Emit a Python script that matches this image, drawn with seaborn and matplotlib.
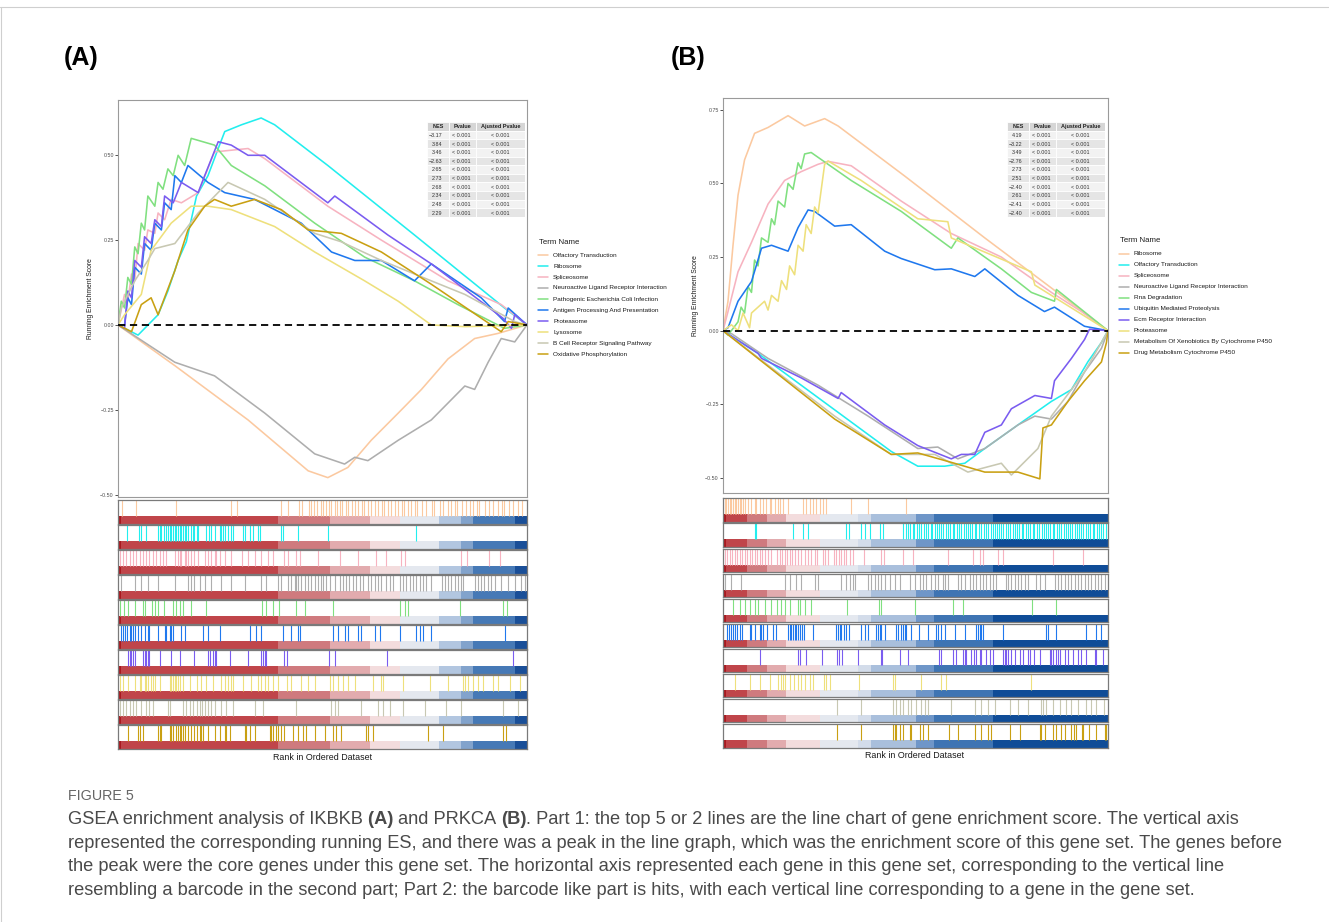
import numpy as np
import pandas as pd
import matplotlib
matplotlib.use("Agg")
import matplotlib.pyplot as plt
import seaborn as sns
from matplotlib.patches import Rectangle
from matplotlib.lines import Line2D

W, H = 1329, 922

# ---------------------------------------------------------------- data
SET_COLORS = ["#FBC9A0", "#22EEEE", "#F7B3C0", "#AEAEAE", "#80E080",
              "#1F78EE", "#7A5CF0", "#EEE07C", "#C8C8B2", "#C9A012"]

TERMS_A = ["Olfactory Transduction", "Ribosome", "Spliceosome",
           "Neuroactive Ligand Receptor Interaction",
           "Pathogenic Escherichia Coli Infection",
           "Antigen Processing And Presentation", "Proteasome", "Lysosome",
           "B Cell Receptor Signaling Pathway", "Oxidative Phosphorylation"]
NES_A = [-3.17, 3.84, 3.46, -2.63, 2.65, 2.73, 2.68, 2.34, 2.48, 2.29]

TERMS_B = ["Ribosome", "Olfactory Transduction", "Spliceosome",
           "Neuroactive Ligand Receptor Interaction", "Rna Degradation",
           "Ubiquitin Mediated Proteolysis", "Ecm Receptor Interaction",
           "Proteasome", "Metabolism Of Xenobiotics By Cytochrome P450",
           "Drug Metabolism Cytochrome P450"]
NES_B = [4.19, -3.22, 3.49, -2.76, 2.73, 2.51, -2.40, 2.61, -2.41, -2.40]

PVAL_TEXT = "< 0.001"

# running enrichment score curves (rank 0..1000, ES)
ES_A_RANK = [
    [0, 139, 318, 465, 513, 562, 619, 685, 742, 807, 872, 929, 1000],
    [0, 49, 98, 122, 147, 167, 192, 220, 245, 261, 302, 350, 383, 513, 725, 945, 1000],
    [0, 16, 24, 33, 41, 49, 65, 73, 90, 98, 114, 130, 155, 196, 236, 318, 359, 513, 644, 807, 937, 1000],
    [0, 139, 236, 359, 481, 554, 579, 611, 685, 766, 807, 848, 872, 905, 937, 970, 1000],
    [0, 8, 16, 24, 33, 41, 49, 57, 65, 73, 90, 98, 110, 122, 135, 147, 163, 179, 236, 277, 359, 481, 603,
     725, 831, 945, 1000],
    [0, 16, 24, 33, 41, 57, 65, 81, 90, 106, 114, 130, 139, 155, 171, 220, 261, 334, 383, 448, 522, 579, 644,
     725, 766, 888, 945, 954, 1000],
    [0, 16, 24, 33, 41, 57, 65, 81, 90, 106, 114, 135, 155, 196, 212, 245, 277, 318, 359, 513, 530, 660, 766,
     941, 962, 970, 1000],
    [0, 16, 57, 81, 130, 179, 220, 277, 383, 481, 603, 685, 766, 848, 1000],
    [0, 8, 41, 73, 90, 139, 196, 269, 359, 481, 546, 644, 766, 848, 970, 1000],
    [0, 33, 57, 81, 98, 139, 171, 212, 236, 277, 334, 399, 465, 546, 644, 766, 937, 954, 1000],
]
ES_A_VAL = [
    [0, -0.12, -0.28, -0.43, -0.45, -0.42, -0.34, -0.26, -0.19, -0.10, -0.04, -0.025, 0],
    [0, -0.03, 0.03, 0.10, 0.19, 0.245, 0.38, 0.44, 0.52, 0.57, 0.59, 0.61, 0.59, 0.47, 0.265, 0.05, 0],
    [0, 0.09, 0.07, 0.15, 0.13, 0.24, 0.22, 0.28, 0.27, 0.33, 0.31, 0.37, 0.36, 0.39, 0.51, 0.52, 0.49, 0.35,
     0.25, 0.13, 0.06, 0],
    [0, -0.11, -0.15, -0.26, -0.38, -0.41, -0.39, -0.40, -0.34, -0.28, -0.23, -0.18, -0.19, -0.11, -0.04, -0.05, 0],
    [0, 0.07, 0.05, 0.14, 0.12, 0.23, 0.21, 0.30, 0.28, 0.38, 0.35, 0.42, 0.40, 0.46, 0.44, 0.50, 0.47, 0.55,
     0.53, 0.47, 0.41, 0.30, 0.20, 0.13, 0.06, -0.01, 0],
    [0, 0, 0.08, 0.06, 0.17, 0.15, 0.24, 0.22, 0.30, 0.28, 0.36, 0.34, 0.44, 0.42, 0.47, 0.42, 0.39, 0.37,
     0.34, 0.30, 0.215, 0.19, 0.19, 0.13, 0.18, 0.08, 0.01, 0.05, 0],
    [0, -0.01, 0.10, 0.08, 0.19, 0.17, 0.26, 0.24, 0.31, 0.29, 0.38, 0.36, 0.42, 0.39, 0.44, 0.54, 0.53, 0.50,
     0.50, 0.36, 0.38, 0.265, 0.18, 0.02, -0.01, 0.03, 0],
    [0, 0.03, 0.09, 0.22, 0.30, 0.35, 0.35, 0.34, 0.29, 0.215, 0.13, 0.07, 0, -0.005, 0],
    [0, 0.05, 0.13, 0.19, 0.225, 0.24, 0.33, 0.42, 0.37, 0.27, 0.245, 0.19, 0.13, 0.09, 0.01, 0],
    [0, -0.02, 0.06, 0.08, 0.03, 0.16, 0.28, 0.35, 0.37, 0.35, 0.37, 0.34, 0.28, 0.27, 0.215, 0.12, -0.02,
     0.01, 0],
]
ES_B_RANK = [
    [0, 13, 26, 39, 56, 82, 117, 169, 212, 264, 299, 472, 680, 853, 1000],
    [0, 91, 203, 333, 437, 506, 576, 628, 680, 766, 853, 905, 948, 983, 1000],
    [0, 13, 39, 74, 117, 160, 203, 247, 273, 333, 463, 593, 723, 853, 931, 1000],
    [0, 22, 117, 247, 377, 506, 558, 610, 680, 766, 810, 853, 896, 939, 983, 1000],
    [0, 13, 39, 47, 56, 65, 74, 82, 91, 100, 117, 126, 134, 143, 160, 169, 182, 195, 203, 212, 229, 333, 463,
     593, 610, 723, 801, 861, 866, 1000],
    [0, 13, 39, 74, 100, 126, 169, 195, 221, 238, 290, 333, 420, 463, 550, 593, 654, 680, 766, 835, 861, 939, 1000],
    [0, 91, 100, 203, 299, 307, 420, 506, 593, 619, 654, 680, 723, 749, 810, 853, 861, 905, 939, 952, 1000],
    [0, 22, 39, 52, 69, 74, 108, 117, 126, 143, 152, 165, 173, 186, 195, 208, 216, 229, 238, 247, 264, 273,
     359, 506, 584, 593, 801, 810, 1000],
    [0, 290, 437, 550, 636, 723, 749, 818, 853, 905, 939, 974, 1000],
    [0, 290, 437, 506, 593, 680, 766, 823, 831, 853, 896, 939, 983, 996, 1000],
]
ES_B_VAL = [
    [0, 0.10, 0.29, 0.46, 0.58, 0.67, 0.69, 0.73, 0.695, 0.72, 0.695, 0.525, 0.315, 0.145, 0],
    [0, -0.077, -0.185, -0.31, -0.41, -0.46, -0.46, -0.45, -0.40, -0.32, -0.24, -0.20, -0.105, -0.04, 0],
    [0, 0.065, 0.20, 0.30, 0.43, 0.51, 0.54, 0.565, 0.575, 0.56, 0.44, 0.33, 0.25, 0.13, 0.065, 0],
    [0, -0.01, -0.094, -0.185, -0.29, -0.40, -0.395, -0.435, -0.40, -0.32, -0.29, -0.30, -0.24, -0.14, -0.06, 0],
    [0, -0.015, 0.03, 0.08, 0.06, 0.15, 0.13, 0.24, 0.22, 0.315, 0.30, 0.38, 0.36, 0.44, 0.42, 0.50, 0.48,
     0.57, 0.55, 0.60, 0.605, 0.51, 0.405, 0.28, 0.315, 0.21, 0.13, 0.10, 0.14, 0],
    [0, 0.01, 0.10, 0.167, 0.28, 0.29, 0.27, 0.35, 0.41, 0.405, 0.355, 0.36, 0.27, 0.245, 0.207, 0.21, 0.184,
     0.21, 0.12, 0.065, 0.08, 0.015, 0],
    [0, -0.077, -0.094, -0.16, -0.23, -0.21, -0.32, -0.39, -0.435, -0.42, -0.42, -0.345, -0.32, -0.265, -0.22,
     -0.23, -0.17, -0.094, -0.03, 0.005, 0],
    [0, 0.02, 0.0, 0.06, 0.01, 0.06, 0.10, 0.07, 0.12, 0.10, 0.17, 0.14, 0.22, 0.19, 0.29, 0.27, 0.36, 0.33,
     0.42, 0.40, 0.565, 0.576, 0.51, 0.38, 0.37, 0.315, 0.20, 0.155, 0],
    [0, -0.29, -0.42, -0.42, -0.48, -0.45, -0.49, -0.40, -0.29, -0.20, -0.14, -0.06, 0],
    [0, -0.30, -0.42, -0.415, -0.447, -0.48, -0.48, -0.503, -0.33, -0.32, -0.24, -0.17, -0.106, -0.04, 0],
]

# barcode hit positions (rank 0..1000)
HITS_A = [
    [10, 45, 143, 277, 292, 399, 416, 442, 449, 466, 472, 480, 487, 497, 502, 508, 516, 521, 531, 535, 544, 548,
     557, 563, 571, 580, 586, 596, 602, 612, 618, 629, 635, 645, 651, 661, 667, 677, 684, 694, 700, 710, 716,
     726, 732, 743, 753, 767, 773, 787, 794, 808, 814, 824, 830, 840, 851, 861, 867, 877, 883, 897, 908, 918,
     928, 938, 944, 955, 965, 979, 987],
    [23, 51, 57, 69, 98, 102, 106, 112, 118, 122, 126, 130, 134, 139, 143, 147, 151, 155, 159, 163, 167, 171,
     178, 183, 187, 192, 196, 216, 222, 228, 236, 249, 253, 257, 261, 269, 277, 281, 306, 310, 322, 330, 342,
     346, 399, 403, 440, 513, 729],
    [4, 12, 20, 29, 37, 45, 53, 61, 69, 77, 86, 94, 102, 110, 118, 139, 147, 151, 155, 163, 167, 171, 179, 187,
     196, 212, 220, 228, 236, 240, 249, 261, 277, 302, 318, 334, 350, 367, 379, 407, 416, 436, 444, 489, 542,
     587, 632, 656, 693, 701, 839, 854, 906, 933],
    [8, 41, 57, 73, 98, 139, 171, 179, 187, 200, 212, 228, 253, 277, 310, 350, 363, 391, 399, 416, 424, 432,
     436, 440, 448, 456, 465, 473, 481, 489, 497, 501, 509, 518, 530, 542, 550, 558, 566, 575, 583, 591, 599,
     611, 619, 628, 636, 644, 656, 664, 672, 689, 697, 705, 713, 721, 729, 738, 746, 754, 766, 791, 799, 807,
     815, 823, 831, 839, 844, 872, 880, 888, 896, 905, 913, 921, 937, 954, 970, 986, 994],
    [4, 15, 24, 41, 61, 65, 83, 91, 98, 112, 134, 143, 151, 159, 179, 216, 353, 363, 379, 393, 436, 458, 526,
     689, 701, 709, 837, 941, 952],
    [7, 12, 16, 23, 29, 33, 37, 41, 49, 57, 65, 73, 77, 98, 114, 118, 126, 130, 134, 155, 163, 208, 220, 249,
     322, 338, 350, 403, 424, 440, 444, 526, 538, 554, 562, 587, 595, 628, 640, 689, 729, 738, 746, 766, 947],
    [24, 29, 33, 37, 41, 61, 65, 69, 73, 77, 102, 130, 152, 187, 220, 224, 232, 236, 240, 273, 318, 350, 355,
     359, 363, 407, 414, 515, 530, 658, 966],
    [4, 12, 24, 41, 53, 57, 65, 69, 73, 81, 86, 90, 102, 126, 130, 134, 139, 143, 147, 151, 159, 175, 192, 204,
     216, 232, 253, 261, 269, 277, 281, 306, 326, 342, 350, 359, 367, 379, 391, 412, 424, 448, 465, 481, 518,
     526, 538, 550, 562, 579, 623, 644, 648, 697, 762, 807, 844, 848, 856, 868, 880, 892, 917, 929, 958, 982],
    [4, 12, 20, 29, 37, 45, 57, 69, 77, 86, 122, 126, 159, 167, 175, 183, 192, 200, 205, 212, 220, 228, 236,
     253, 265, 281, 334, 355, 436, 520, 530, 538, 595, 636, 648, 664, 697, 750, 803, 839, 941, 978],
    [24, 49, 53, 61, 99, 102, 106, 126, 130, 134, 143, 147, 151, 155, 159, 163, 171, 179, 187, 192, 200, 204,
     208, 220, 236, 249, 261, 265, 273, 310, 314, 322, 334, 371, 375, 379, 387, 391, 399, 407, 428, 440, 452,
     460, 481, 505, 526, 534, 546, 607, 611, 623, 758, 795, 941, 949],
]
HITS_B = [
    [4, 9, 13, 17, 22, 26, 30, 35, 39, 43, 48, 52, 56, 65, 74, 82, 87, 95, 104, 113, 121, 126, 134, 143, 147,
     156, 169, 208, 217, 225, 234, 243, 252, 260, 269, 334, 376, 477],
    [82, 87, 182, 208, 221, 321, 327, 360, 369, 382, 408, 416, 468, 475, 481, 486, 493, 498, 505, 511, 515, 522,
     527, 533, 540, 544, 551, 556, 562, 568, 573, 580, 584, 591, 597, 602, 609, 613, 620, 626, 631, 637, 643,
     648, 655, 659, 666, 671, 678, 684, 688, 696, 701, 707, 712, 719, 724, 729, 737, 741, 747, 753, 759, 764,
     770, 777, 781, 788, 793, 799, 806, 810, 816, 822, 829, 834, 839, 846, 851, 857, 862, 869, 874, 880, 886,
     891, 898, 903, 908, 915, 920, 926, 932, 937, 944, 949, 955, 961, 966, 972, 978, 983, 989, 995],
    [4, 11, 17, 23, 30, 37, 43, 49, 56, 63, 69, 75, 82, 89, 95, 101, 108, 117, 124, 141, 147, 154, 160, 167,
     173, 180, 186, 195, 202, 214, 221, 230, 239, 245, 260, 266, 273, 289, 295, 301, 308, 315, 321, 330, 338,
     367, 412, 419, 468, 493, 585, 650, 668, 675, 716, 729, 859, 935],
    [6, 22, 46, 160, 173, 191, 204, 239, 247, 308, 321, 330, 338, 343, 377, 386, 395, 403, 412, 421, 434, 447,
     460, 486, 499, 512, 520, 529, 542, 551, 559, 572, 577, 585, 611, 620, 629, 642, 650, 659, 668, 676, 685,
     694, 703, 711, 737, 742, 750, 759, 768, 776, 785, 794, 815, 824, 837, 863, 872, 880, 889, 898, 906, 915,
     924, 932, 941, 950, 958, 967, 976, 984, 993],
    [26, 43, 56, 69, 84, 91, 108, 126, 141, 150, 160, 173, 195, 199, 212, 230, 323, 405, 412, 500, 598, 624,
     804, 867],
    [11, 15, 20, 26, 32, 37, 43, 49, 69, 74, 82, 95, 100, 104, 115, 130, 139, 169, 173, 178, 182, 186, 191, 195,
     199, 206, 211, 234, 295, 299, 304, 308, 315, 321, 327, 360, 369, 377, 399, 403, 408, 412, 421, 451, 455,
     464, 468, 473, 477, 488, 509, 533, 555, 559, 568, 577, 603, 629, 659, 663, 668, 672, 676, 729, 841, 846,
     865, 945, 971, 984],
    [95, 195, 199, 217, 258, 297, 301, 310, 350, 410, 414, 460, 480, 561, 566, 598, 605, 624, 629, 633, 644, 653,
     659, 668, 672, 685, 694, 703, 729, 733, 737, 742, 750, 759, 772, 781, 794, 798, 809, 824, 850, 854, 859,
     867, 872, 876, 889, 898, 911, 924, 932, 945, 967, 971, 989],
    [32, 69, 95, 121, 143, 150, 156, 160, 173, 185, 195, 204, 214, 225, 234, 263, 269, 278, 353, 442, 447, 516,
     568, 581, 802],
    [297, 360, 442, 451, 460, 468, 481, 490, 503, 516, 525, 532, 592, 655, 672, 688, 707, 746, 768, 794, 827, 833,
     841, 859, 876, 893, 906, 924, 945, 958, 971, 991],
    [297, 360, 442, 447, 451, 460, 468, 486, 490, 512, 520, 532, 587, 611, 655, 672, 688, 698, 746, 772, 824,
     828, 837, 859, 867, 880, 889, 906, 913, 919, 934, 937, 951, 971, 993, 997],
]

# ranked-list colour band (segment edges in rank units, colours)
BAND_A_EDGES = [0, 8, 391, 518, 615, 689, 786, 839, 868, 970, 1000]
BAND_A_COLORS = ["#A8191F", "#C0454A", "#CF7A7E", "#E2ABAE", "#F3DCDD",
                 "#E4E8EF", "#B2C6E0", "#82A3CC", "#4679B6", "#1A4F98"]
BAND_B_EDGES = [0, 9, 62, 114, 165, 253, 350, 386, 503, 549, 703, 1000]
BAND_B_COLORS = ["#A8191F", "#C0454A", "#CF7A7E", "#E2ABAE", "#F3DCDD",
                 "#E4E8EF", "#D3DCEA", "#A9BFDC", "#6F96C8", "#3E74B3", "#0F4C97"]

CAPTION_TITLE = "FIGURE 5"
CAPTION_LINES = [
    [("GSEA enrichment analysis of IKBKB ", "normal"), ("(A) ", "bold"), ("and PRKCA ", "normal"),
     ("(B)", "bold"),
     (". Part 1: the top 5 or 2 lines are the line chart of gene enrichment score. The vertical axis", "normal")],
    [("represented the corresponding running ES, and there was a peak in the line graph, which was the "
      "enrichment score of this gene set. The genes before", "normal")],
    [("the peak were the core genes under this gene set. The horizontal axis represented each gene in this "
      "gene set, corresponding to the vertical line", "normal")],
    [("resembling a barcode in the second part; Part 2: the barcode like part is hits, with each vertical line "
      "corresponding to a gene in the gene set.", "normal")],
]

# ---------------------------------------------------------------- style
sns.set_theme(style="white")
plt.rcParams["font.family"] = ["Liberation Sans", "DejaVu Sans"]
plt.rcParams["axes.unicode_minus"] = True

fig = plt.figure(figsize=(W / 100, H / 100), dpi=100)
fig.patch.set_facecolor("white")


def fx(x):
    return x / W


def fy(y):
    return 1 - y / H


def px_axes(l, t, r, b):
    return fig.add_axes([l / W, 1 - b / H, (r - l) / W, (b - t) / H])


def fmt_num(v, nd=2):
    s = f"{v:.{nd}f}"
    return s.replace("-", "\u2212")


BAND_H = 0.31


def draw_panel(cfg):
    terms = cfg["terms"]
    ax = px_axes(*cfg["main"])
    rows = []
    for term, rk, vl in zip(terms, cfg["ranks"], cfg["vals"]):
        for a, b in zip(rk, vl):
            rows.append((term, a, b))
    df = pd.DataFrame(rows, columns=["term", "rank", "es"])
    pal = dict(zip(terms, SET_COLORS))
    sns.lineplot(data=df, x="rank", y="es", hue="term", hue_order=terms, palette=pal,
                 estimator=None, sort=False, legend=False, linewidth=1.15, ax=ax)
    ax.axhline(0, color="black", lw=1.3, ls=(0, (4, 2.6)), zorder=5)
    ax.set_xlim(0, 1000)
    ax.set_ylim(*cfg["ylim"])
    ax.set_xticks([])
    ax.set_yticks(cfg["yticks"])
    ax.set_yticklabels([fmt_num(v) for v in cfg["yticks"]])
    ax.tick_params(axis="y", left=True, length=2, width=0.6, color="#333333",
                   labelsize=3.8, labelcolor="#4d4d4d", pad=1)
    ax.set_xlabel("")
    ax.set_ylabel("Running Enrichment Score", fontsize=4.9, color="#1a1a1a")
    ax.yaxis.set_label_coords(cfg["ylabel_x"], 0.5)
    for s in ax.spines.values():
        s.set_color("#9a9a9a")
        s.set_linewidth(0.8)

    # table
    tax = px_axes(*cfg["table"])
    tax.set_xlim(0, 1)
    tax.set_ylim(11, 0)
    tax.axis("off")
    cols = [0, 0.224, 0.497, 1.0]
    for r in range(11):
        bg = "#D6D6D6" if r == 0 else ("#F2F2F2" if r % 2 == 1 else "#E5E5E5")
        for c in range(3):
            tax.add_patch(Rectangle((cols[c], r), cols[c + 1] - cols[c], 1, facecolor=bg,
                                    edgecolor="white", lw=0.6))
    heads = ["NES", "Pvalue", "Ajusted Pvalue"]
    for c, h in enumerate(heads):
        tax.text((cols[c] + cols[c + 1]) / 2, 0.55, h, ha="center", va="center",
                 fontsize=4.0, weight="bold", color="#222222")
    for r, v in enumerate(cfg["nes"], start=1):
        tax.text(cols[0] + 0.16, r + 0.55, fmt_num(v), ha="right", va="center", fontsize=3.9, color="#333333")
        tax.text(cols[1] + 0.03, r + 0.55, PVAL_TEXT, ha="left", va="center", fontsize=3.9, color="#333333")
        tax.text((cols[2] + cols[3]) / 2, r + 0.55, PVAL_TEXT, ha="center", va="center",
                 fontsize=3.9, color="#333333")

    # legend
    lx, ly = cfg["legend"]
    fig.text(fx(lx), fy(ly), "Term Name", fontsize=5.6, va="center", ha="left", color="#1a1a1a")
    for i, (t, c) in enumerate(zip(terms, SET_COLORS)):
        y = ly + 13 + i * 11
        fig.add_artist(Line2D([fx(lx - 1), fx(lx + 9)], [fy(y), fy(y)], color=c, lw=1.1))
        fig.text(fx(lx + 14), fy(y), t, fontsize=4.6, va="center", ha="left", color="#1a1a1a")

    # barcode strips
    l, r = cfg["strip_x"]
    edges = np.array(cfg["edges"], dtype=float)
    for i, (hits, col) in enumerate(zip(cfg["hits"], SET_COLORS)):
        top = cfg["strip_top"] + i * cfg["strip_pitch"]
        sax = px_axes(l, top, r, top + cfg["strip_h"])
        sax.set_xlim(0, 1000)
        sax.set_ylim(0, 1)
        sax.bar(edges[:-1], BAND_H, width=np.diff(edges), align="edge",
                color=cfg["band_colors"], linewidth=0)
        sax.vlines(hits, BAND_H, 1, color=col, lw=0.8)
        sax.set_xticks([])
        sax.set_yticks([])
        for s in sax.spines.values():
            s.set_color("#7a7a7a")
            s.set_linewidth(0.9)

    fig.text(fx(cfg["xlabel"][0]), fy(cfg["xlabel"][1]), "Rank in Ordered Dataset",
             fontsize=6.4, ha="center", va="center", color="#1a1a1a")
    fig.text(fx(cfg["tag"][0]), fy(cfg["tag"][1]), cfg["tag"][2], fontsize=18, weight="bold",
             ha="left", va="center", color="black")


draw_panel(dict(terms=TERMS_A, ranks=ES_A_RANK, vals=ES_A_VAL, nes=NES_A,
                main=(118, 100, 527, 497.3), ylim=(-0.508, 0.663),
                yticks=[-0.5, -0.25, 0, 0.25, 0.5], ylabel_x=-0.059,
                table=(427, 122, 525, 217), legend=(539, 242),
                strip_x=(118, 527), strip_top=500, strip_pitch=25, strip_h=23.5,
                hits=HITS_A, edges=BAND_A_EDGES, band_colors=BAND_A_COLORS,
                xlabel=(322.5, 757), tag=(64, 58, "(A)")))

draw_panel(dict(terms=TERMS_B, ranks=ES_B_RANK, vals=ES_B_VAL, nes=NES_B,
                main=(723, 98.3, 1108, 493), ylim=(-0.551, 0.789),
                yticks=[-0.5, -0.25, 0, 0.25, 0.5, 0.75], ylabel_x=-0.063,
                table=(1007, 122, 1105, 217), legend=(1120, 240.7),
                strip_x=(723, 1107.5), strip_top=498.3, strip_pitch=25.1, strip_h=23.3,
                hits=HITS_B, edges=BAND_B_EDGES, band_colors=BAND_B_COLORS,
                xlabel=(915, 755), tag=(671, 58, "(B)")))

# frame lines of the page
fig.add_artist(Line2D([0, 1], [fy(7.5), fy(7.5)], color="#cfcfcf", lw=0.8))
fig.add_artist(Line2D([fx(1.5), fx(1.5)], [fy(7.5), 0], color="#cfcfcf", lw=0.8))

# caption
CAP_FAMILY = ["Liberation Sans Narrow", "Liberation Sans", "DejaVu Sans"]
renderer = fig.canvas.get_renderer()


def text_width(txt, size, weight):
    t1 = fig.text(0, 0, txt + "|", fontsize=size, weight=weight, family=CAP_FAMILY, stretch="condensed")
    t2 = fig.text(0, 0, "|", fontsize=size, weight=weight, family=CAP_FAMILY, stretch="condensed")
    w = t1.get_window_extent(renderer).width - t2.get_window_extent(renderer).width
    t1.remove()
    t2.remove()
    return w


base = 12.0
w_line = sum(text_width(t, base, wt) for t, wt in CAPTION_LINES[1])
cap_size = base * 1220.0 / w_line

fig.text(fx(68), fy(800), CAPTION_TITLE, fontsize=cap_size * 0.78, family=CAP_FAMILY,
         stretch="condensed", color="#666666", va="baseline", ha="left")
baselines = [824, 847.5, 871, 894.5]
for runs, yb in zip(CAPTION_LINES, baselines):
    x = 68.0
    for txt, wt in runs:
        fig.text(fx(x), fy(yb), txt, fontsize=cap_size, weight=wt, family=CAP_FAMILY,
                 stretch="condensed", color="#4a4a4a", va="baseline", ha="left")
        x += text_width(txt, cap_size, wt)

fig.savefig("out.png", dpi=100, facecolor="white")
